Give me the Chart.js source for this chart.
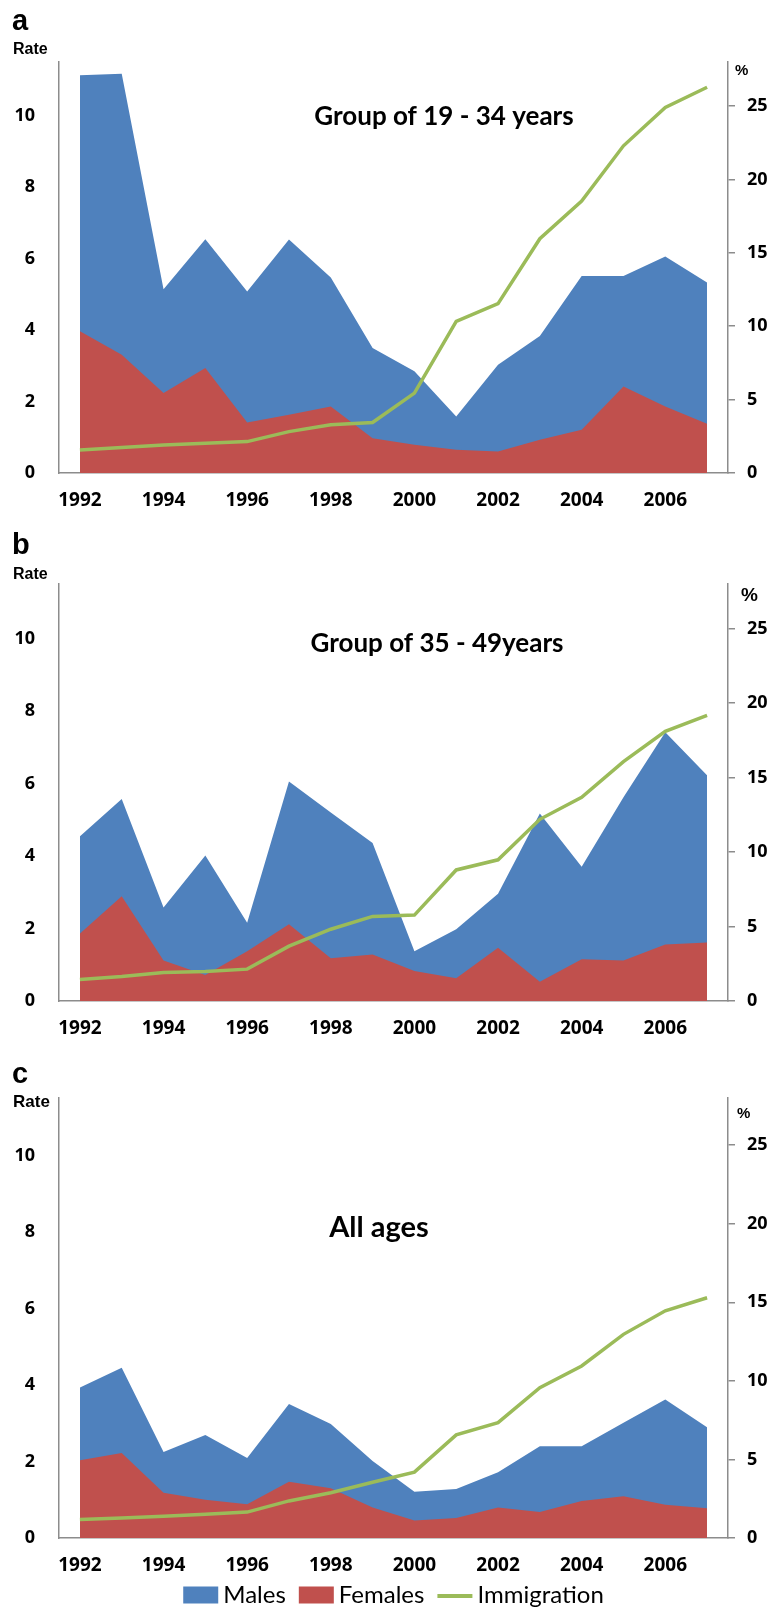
<!DOCTYPE html>
<html>
<head>
<meta charset="utf-8">
<script src="https://cdn.jsdelivr.net/npm/chart.js@4.4.1/dist/chart.umd.min.js"></script>
<style>
  html, body { margin: 0; padding: 0; background: #ffffff; }
  #page { position: relative; width: 769px; height: 1613px; overflow: hidden; background: #ffffff; }
  .panel { position: absolute; left: 0; width: 769px; }
  .panel canvas { display: block; }
</style>
</head>
<body>
<div id="page">
  <div class="panel" style="top:0px;height:520px"><canvas id="chartA" width="769" height="520"></canvas></div>
  <div class="panel" style="top:520px;height:540px"><canvas id="chartB" width="769" height="540"></canvas></div>
  <div class="panel" style="top:1060px;height:553px"><canvas id="chartC" width="769" height="553"></canvas></div>
</div>
<script>
// Years on the category axis
const years = ['1992','1993','1994','1995','1996','1997','1998','1999',
               '2000','2001','2002','2003','2004','2005','2006','2007'];

// Series names
const seriesNames = ['Males', 'Females', 'Immigration'];

// Panel a: 19 - 34 years (rates on left axis, immigration % on right axis)
const malesA   = [11.13, 11.17, 5.14, 6.54, 5.08, 6.53, 5.47, 3.50, 2.85, 1.58, 3.03, 3.83, 5.51, 5.51, 6.06, 5.33];
const femalesA = [3.97, 3.31, 2.24, 2.94, 1.41, 1.63, 1.86, 0.97, 0.79, 0.65, 0.60, 0.93, 1.21, 2.42, 1.86, 1.38];
const immigA   = [1.57, 1.73, 1.91, 2.03, 2.14, 2.82, 3.28, 3.44, 5.44, 10.33, 11.54, 15.96, 18.53, 22.29, 24.91, 26.28];

// Panel b: 35 - 49 years
const malesB   = [4.54, 5.57, 2.58, 4.01, 2.16, 6.05, 5.20, 4.36, 1.37, 1.98, 2.96, 5.17, 3.70, 5.62, 7.41, 6.22];
const femalesB = [1.86, 2.89, 1.12, 0.72, 1.37, 2.12, 1.18, 1.28, 0.83, 0.63, 1.47, 0.53, 1.15, 1.12, 1.56, 1.61];
const immigB   = [1.45, 1.64, 1.91, 1.98, 2.14, 3.68, 4.82, 5.68, 5.77, 8.80, 9.48, 12.20, 13.68, 16.07, 18.11, 19.18];

// Panel c: all ages
const malesC   = [3.93, 4.45, 2.25, 2.69, 2.09, 3.50, 2.98, 2.01, 1.21, 1.28, 1.72, 2.40, 2.40, 3.01, 3.62, 2.89];
const femalesC = [2.03, 2.22, 1.18, 1.00, 0.88, 1.47, 1.30, 0.80, 0.46, 0.52, 0.80, 0.68, 0.97, 1.09, 0.87, 0.78];
const immigC   = [1.18, 1.27, 1.39, 1.51, 1.65, 2.36, 2.88, 3.55, 4.19, 6.56, 7.34, 9.57, 10.95, 12.96, 14.46, 15.29];

// Axis ranges and tick steps
const rateMax = 11.5, rateStep = 2;
const pctMax = 28, pctStep = 5;

const BLUE = '#4f81bd';
const RED = '#c0504d';
const GREEN = '#9bbb59';
const AXIS = '#8c8c8c';
const BOLD_SANS = '"Liberation Sans", Arial, sans-serif';
const TICK_FONT = '"Open Sans", sans-serif';

// Panel letter, "Rate", "%" and the in-plot title
const panelText = {
  id: 'panelText',
  afterDraw(chart, args, o) {
    const ctx = chart.ctx;
    ctx.save();
    ctx.fillStyle = '#000';
    ctx.textBaseline = 'alphabetic';
    ctx.textAlign = 'left';
    ctx.font = 'bold 29px ' + BOLD_SANS;
    ctx.fillText(o.letter, 12, o.letterY);
    ctx.font = 'bold ' + o.rateSize + 'px ' + BOLD_SANS;
    ctx.fillText('Rate', 13, o.rateY);
    ctx.font = 'bold ' + o.pctSize + 'px ' + BOLD_SANS;
    ctx.fillText('%', o.pctX, o.pctY);
    ctx.font = 'bold ' + o.titleSize + 'px Lato, sans-serif';
    ctx.textAlign = 'center';
    ctx.fillText(o.title, o.titleX, o.titleY);
    ctx.restore();
  }
};

// Legend row under the last panel, built from the datasets
const bottomLegend = {
  id: 'bottomLegend',
  afterDraw(chart, args, o) {
    if (!o.show) return;
    const ctx = chart.ctx;
    ctx.save();
    ctx.font = '24px Lato, sans-serif';
    const items = chart.data.datasets.map(ds => ({
      label: ds.label,
      line: !ds.fill,
      color: ds.fill ? ds.backgroundColor : ds.borderColor
    }));
    const boxW = 35, boxH = 17, gapText = 5, gapItem = 13;
    let total = 0;
    items.forEach(it => { it.w = ctx.measureText(it.label).width; total += boxW + gapText + it.w; });
    total += gapItem * (items.length - 1);
    const ca = chart.chartArea;
    let x = (ca.left + ca.right) / 2 - total / 2;
    const y = o.y;
    items.forEach(it => {
      if (it.line) {
        ctx.strokeStyle = it.color;
        ctx.lineWidth = 4;
        ctx.beginPath();
        ctx.moveTo(x, y + 1);
        ctx.lineTo(x + boxW, y + 1);
        ctx.stroke();
      } else {
        ctx.fillStyle = it.color;
        ctx.fillRect(x, y - boxH / 2, boxW, boxH);
      }
      x += boxW + gapText;
      ctx.fillStyle = '#000';
      ctx.textBaseline = 'middle';
      ctx.textAlign = 'left';
      ctx.fillText(it.label, x, y);
      x += it.w + gapItem;
    });
    ctx.restore();
  }
};

function makePanel(id, p) {
  const localTop = p.axisTop - p.top;
  const xAxisHeight = p.height - (p.zero - p.top);
  return new Chart(document.getElementById(id), {
    type: 'line',
    data: {
      labels: years,
      datasets: [
        { label: seriesNames[0], data: p.males, yAxisID: 'y', fill: 'origin',
          backgroundColor: BLUE, borderWidth: 0, pointRadius: 0, tension: 0, order: 2 },
        { label: seriesNames[1], data: p.females, yAxisID: 'y', fill: 'origin',
          backgroundColor: RED, borderWidth: 0, pointRadius: 0, tension: 0, order: 1 },
        { label: seriesNames[2], data: p.immig, yAxisID: 'y2', fill: false,
          borderColor: GREEN, borderWidth: 3.5, pointRadius: 0, tension: 0, order: 0 }
      ]
    },
    options: {
      responsive: false,
      animation: false,
      devicePixelRatio: 1,
      layout: { padding: { top: localTop, left: 0, right: 0, bottom: 0 } },
      plugins: {
        legend: { display: false },
        tooltip: { enabled: false },
        panelText: {
          letter: p.letter, letterY: p.letterY - p.top,
          rateY: p.rateY - p.top, rateSize: p.rateSize,
          pctX: p.pctX, pctY: p.pctY - p.top, pctSize: p.pctSize,
          title: p.title, titleX: p.titleX, titleY: p.titleY - p.top, titleSize: p.titleSize
        },
        bottomLegend: { show: !!p.legendY, y: (p.legendY || 0) - p.top }
      },
      scales: {
        x: {
          type: 'category',
          offset: true,
          grid: { display: false, drawTicks: false },
          border: { display: true, color: AXIS, width: 1.5 },
          ticks: {
            autoSkip: false, maxRotation: 0, padding: 16, color: '#000',
            font: { family: TICK_FONT, size: 19, weight: 'bold' },
            callback: (v, i) => (i % 2 === 0 ? years[i] : '')
          },
          afterFit: s => { s.height = xAxisHeight; }
        },
        y: {
          position: 'left', min: 0, max: rateMax,
          grid: { display: false },
          border: { display: true, color: AXIS, width: 1.5 },
          ticks: { stepSize: rateStep, includeBounds: false, padding: 16, color: '#000',
                   font: { family: TICK_FONT, size: 18, weight: 'bold' } },
          afterFit: s => { s.width = 59; }
        },
        y2: {
          position: 'right', min: 0, max: pctMax,
          grid: { display: true, drawOnChartArea: false, drawTicks: true, tickLength: 7,
                  color: AXIS, lineWidth: 1.5 },
          border: { display: true, color: AXIS, width: 1.5 },
          ticks: { stepSize: pctStep, includeBounds: false, padding: 12, color: '#000',
                   font: { family: TICK_FONT, size: 18, weight: 'bold' } },
          afterFit: s => { s.width = 41; }
        }
      }
    },
    plugins: [panelText, bottomLegend]
  });
}

makePanel('chartA', {
  top: 0, height: 520, axisTop: 62, zero: 473,
  males: malesA, females: femalesA, immig: immigA,
  letter: 'a', letterY: 30, rateY: 54, rateSize: 16,
  pctX: 735, pctY: 75, pctSize: 15,
  title: 'Group of 19 - 34 years', titleX: 444, titleY: 125, titleSize: 26
});

makePanel('chartB', {
  top: 520, height: 540, axisTop: 584, zero: 1001,
  males: malesB, females: femalesB, immig: immigB,
  letter: 'b', letterY: 554, rateY: 579, rateSize: 16,
  pctX: 741, pctY: 601, pctSize: 19,
  title: 'Group of 35 - 49years', titleX: 437, titleY: 652, titleSize: 26
});

makePanel('chartC', {
  top: 1060, height: 553, axisTop: 1098, zero: 1538,
  males: malesC, females: femalesC, immig: immigC,
  letter: 'c', letterY: 1083, rateY: 1107, rateSize: 17,
  pctX: 737, pctY: 1118, pctSize: 15,
  title: 'All ages', titleX: 379, titleY: 1237, titleSize: 29,
  legendY: 1595
});
</script>
</body>
</html>
